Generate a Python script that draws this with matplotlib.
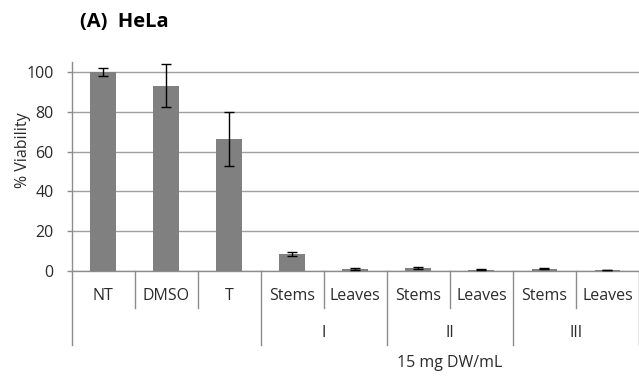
import matplotlib
matplotlib.use("Agg")
import matplotlib.pyplot as plt
import matplotlib.transforms as mtransforms

plt.rcParams['font.family'] = ['Open Sans', 'DejaVu Sans']

# Data
categories = ["NT", "DMSO", "T", "Stems", "Leaves", "Stems", "Leaves", "Stems", "Leaves"]
viability = [100.0, 93.2, 66.4, 8.6, 1.0, 1.5, 0.8, 1.2, 0.5]
errors = [2.0, 11.0, 13.6, 1.0, 0.4, 0.4, 0.2, 0.3, 0.1]
groups = ["I", "II", "III"]
group_spans = [(3, 4), (5, 6), (7, 8)]
y_ticks = [0, 20, 40, 60, 80, 100]
x_caption = "15 mg DW/mL"
y_caption = "% Viability"
title = "(A)  HeLa"

text_color = "#2b2b2b"
axis_color = "#8c8c8c"
fs = 11.5

fig = plt.figure(figsize=(6.39, 3.76), dpi=100)
ax = fig.add_axes([0.112, 0.279, 0.888, 0.556])

x = list(range(len(categories)))
ax.bar(x, viability, width=0.41, color="#808080", zorder=3)
ax.errorbar(x, viability, yerr=errors, fmt="none", ecolor="black",
            elinewidth=1.0, capsize=3.5, capthick=1.0, zorder=4)

ax.set_xlim(-0.5, len(categories) - 0.5)
ax.set_ylim(0, 105)
ax.set_yticks(y_ticks)
ax.set_yticklabels([str(t) for t in y_ticks])
ax.yaxis.grid(True, color="#a0a0a0", linewidth=1.0, zorder=0)
ax.set_axisbelow(True)

for side in ("top", "right"):
    ax.spines[side].set_visible(False)
for side in ("left", "bottom"):
    ax.spines[side].set_color(axis_color)
    ax.spines[side].set_linewidth(1.0)

ax.tick_params(axis="y", length=3.5, width=1.0, color=axis_color, pad=9.5,
               labelsize=fs, labelcolor=text_color)
ax.set_xticks([])

ax.set_ylabel(y_caption, fontsize=fs, color=text_color)
ax.yaxis.set_label_coords(-0.072, 0.58)

# Multi-level category axis below the plot
trans = mtransforms.blended_transform_factory(ax.transData, ax.transAxes)
lvl1 = -0.177
lvl2 = -0.354
for i, name in enumerate(categories):
    ax.text(i, -0.12, name, transform=trans, ha="center", va="center",
            fontsize=fs, color=text_color)

outer = [-0.5, 2.5, 4.5, 6.5, 8.5]
for i in range(len(categories) + 1):
    b = i - 0.5
    bottom = lvl2 if b in outer else lvl1
    ax.plot([b, b], [0, bottom], transform=trans, color=axis_color,
            linewidth=1.0, clip_on=False)

for g, (a, b) in zip(groups, group_spans):
    ax.text((a + b) / 2, -0.297, g, transform=trans, ha="center", va="center",
            fontsize=fs, color=text_color)

ax.text(5.5, -0.44, x_caption, transform=trans, ha="center", va="center",
        fontsize=fs, color=text_color)

fig.text(0.125, 0.941, title, ha="left", va="center", fontsize=14.5,
         fontweight="bold", color="black")

fig.savefig("out.png", dpi=100)
